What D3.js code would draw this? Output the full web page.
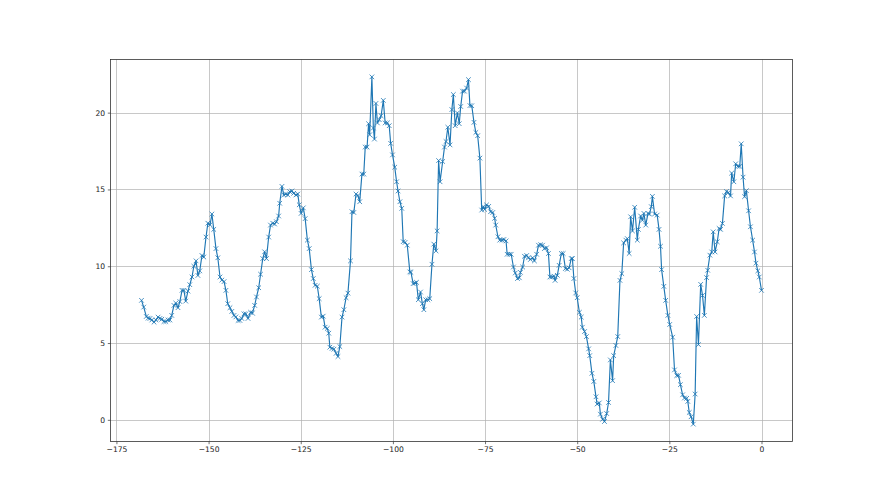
<!DOCTYPE html>
<html>
<head>
<meta charset="utf-8">
<script src="https://cdn.jsdelivr.net/npm/d3@7"></script>
<style>
  html, body { margin: 0; padding: 0; background: #ffffff; }
  svg { display: block; }
  text { font-family: "DejaVu Sans", sans-serif; }
</style>
</head>
<body>
<svg id="chart" width="880" height="495"></svg>
<script>
// x positions
const xValues = [
  -168.2,-167.6,-166.9,-166.4,-165.9,-165.4,-164.8,-164.3,-163.7,-163.2,-162.7,-162.1,-161.6,-161.0,-160.5,-160.0,
  -159.4,-158.9,-158.3,-157.8,-157.2,-156.7,-156.2,-155.6,-155.1,-154.5,-154.0,-153.4,-152.9,-152.4,-151.8,-151.3,
  -150.7,-150.2,-149.6,-149.1,-148.6,-148.0,-147.5,-146.9,-146.4,-145.8,-145.3,-144.8,-144.2,-143.7,-143.1,-142.6,
  -142.0,-141.5,-141.0,-140.4,-139.9,-139.3,
  -138.6,-138.1,-137.5,-137.0,-136.4,-135.9,-135.3,-134.8,-134.3,-133.7,-133.2,-132.6,-132.1,-131.6,-131.0,-130.7,
  -130.1,-129.6,-129.1,-128.5,-128.0,-127.4,-126.9,-126.3,-125.8,-125.4,-124.9,-124.3,-123.8,-123.2,-122.7,-122.1,
  -121.6,-121.1,-120.5,-120.0,-119.4,-118.9,-118.4,-117.8,-117.4,-117.1,-116.5,-116.0,-115.4,-114.9,-114.4,-113.8,
  -113.3,-112.7,-112.2,-111.5,-111.1,-110.6,-110.0,-109.5,-109.0,
  -108.4,-107.9,-107.5,-107.0,-106.6,-106.3,-105.7,-105.3,-105.0,-104.6,-104.2,-103.7,-103.2,-102.6,-102.1,-101.5,
  -101.0,-100.6,-100.1,-99.5,-99.0,-98.6,-98.1,-97.6,-97.2,-96.7,-96.1,-95.4,-95.1,-94.5,-94.0,-93.6,-93.1,-92.5,
  -92.0,-91.6,-91.1,-90.5,-90.0,-89.4,-88.9,-88.3,-88.0,-87.6,-87.2,
  -86.5,-86.0,-85.6,-85.1,-84.5,-84.0,-83.6,-83.1,-82.5,-82.0,-81.6,-81.1,-80.6,-80.0,-79.5,-79.1,-78.6,-78.0,
  -77.5,-77.0,-76.4,-75.9,-75.5,-75.1,-74.6,-74.0,-73.5,-72.9,-72.4,-72.1,-71.5,-71.0,-70.4,-69.9,-69.3,-69.0,
  -68.4,-67.9,-67.3,-66.8,-66.2,-65.7,-65.4,
  -64.8,-64.3,-63.7,-63.2,-62.7,-62.1,-61.6,-61.0,-60.5,-59.9,-59.4,-58.9,-58.3,-57.8,-57.4,-56.9,-56.3,-56.0,
  -55.4,-54.9,-54.3,-53.8,-53.2,-52.7,-52.2,-51.6,-51.3,-50.9,-50.4,-50.0,
  -49.4,-48.9,-48.6,-48.0,-47.5,-46.9,-46.6,-46.0,-45.5,-44.9,-44.6,-44.0,-43.7,-43.1,-42.6,-42.0,-41.5,-41.0,
  -40.4,-40.1,-39.5,-39.0,-38.4,-37.9,-37.4,-36.8,-36.4,-35.9,-35.5,-35.0,-34.4,-33.7,-33.4,-32.8,-32.3,-31.9,
  -31.4,-30.8,-30.4,-29.9,-29.6,-29.0,-28.3,-27.8,-27.4,
  -27.1,-26.5,-26.0,-25.4,-24.9,-24.1,-23.6,-23.0,-22.5,-22.0,-21.4,-20.9,-20.3,-20.0,-19.6,-19.1,-18.5,-18.0,
  -17.6,-17.1,-16.5,-16.0,-15.5,-14.9,-14.6,-14.0,-13.5,-13.1,-12.6,-12.0,-11.5,-11.1,-10.6,-10.0,-9.5,-9.0,
  -8.4,-8.1,-7.5,-7.0,-6.4,-5.9,-5.5,-5.0,-4.6,-4.1,-3.5,-3.0,-2.4,-1.9,-1.5,-1.0,-0.6,0.0
];
// y values
const yValues = [
  7.78,7.34,6.73,6.62,6.6,6.5,6.36,6.5,6.69,6.6,6.55,6.4,6.4,6.5,6.5,6.8,
  7.45,7.6,7.3,7.7,8.43,8.43,7.73,8.38,8.8,9.3,10.0,10.35,9.4,9.7,10.7,10.6,
  11.9,12.8,12.7,13.4,12.4,11.15,10.55,9.3,9.1,9.0,8.43,7.56,7.3,7.06,6.8,6.7,
  6.47,6.47,6.6,6.9,6.9,6.6,
  7.0,6.95,7.45,8.0,8.6,9.48,10.5,10.94,10.5,11.9,12.68,12.8,12.75,12.9,13.27,14.1,
  15.2,14.64,14.7,14.64,14.86,14.9,14.75,14.64,14.7,14.0,13.44,13.8,13.1,11.7,11.15,9.78,
  9.2,8.76,8.7,7.89,6.69,6.75,6.03,5.95,5.64,4.73,4.65,4.6,4.33,4.12,4.77,6.69,
  7.17,7.95,8.25,10.35,13.55,13.5,14.7,14.6,14.2,
  16.0,16.0,17.76,17.76,19.28,18.56,22.33,19.0,18.28,20.6,19.33,19.54,19.8,20.8,19.33,19.33,
  19.15,18.0,17.25,16.45,15.5,14.9,14.2,13.77,11.6,11.55,11.37,9.63,9.6,8.87,8.9,8.95,7.82,8.32,
  7.56,7.17,7.82,7.82,7.89,10.13,11.44,11.0,12.3,16.88,15.5,
  16.82,17.76,18.12,19.05,17.9,20.2,21.18,19.15,19.98,19.28,20.4,21.4,21.4,21.6,22.15,20.46,20.45,19.37,
  18.71,18.5,17.04,13.66,13.88,13.7,13.99,13.9,13.55,13.5,13.12,12.68,11.92,11.7,11.7,11.74,11.65,10.78,
  10.78,10.78,9.95,9.56,9.2,9.25,9.6,
  9.95,10.65,10.7,10.55,10.44,10.55,10.35,10.78,11.37,11.4,11.37,11.15,11.2,10.83,9.3,9.3,9.35,9.08,
  9.41,10.06,10.83,10.83,9.85,9.8,9.9,10.5,10.5,9.2,8.26,7.95,
  7.0,6.69,6.03,5.75,5.42,4.62,4.18,3.03,2.5,1.5,1.03,1.1,0.37,0.04,-0.11,0.41,1.13,3.9,
  2.55,4.18,4.84,5.42,9.08,9.52,11.52,11.7,11.8,10.83,13.22,12.3,13.84,11.7,12.4,13.27,13.0,13.44,
  12.68,13.44,13.4,13.88,14.55,13.4,13.33,12.4,11.3,
  9.78,8.69,7.78,6.8,6.21,5.38,3.25,2.88,2.9,2.29,1.63,1.42,1.4,1.2,0.48,0.2,-0.28,1.68,
  6.73,4.9,8.82,8.1,6.8,9.26,9.74,10.72,10.93,12.24,10.93,11.59,12.46,12.4,12.79,14.58,14.86,14.8,
  14.58,16.06,15.5,16.67,16.5,16.5,17.97,15.8,14.53,14.92,13.61,12.57,11.7,10.93,10.2,9.7,9.3,8.43
];
const xTicks = [-175, -150, -125, -100, -75, -50, -25, 0];
const yTicks = [0, 5, 10, 15, 20];

(function () {
  const n = Math.min(xValues.length, yValues.length);
  const data = d3.range(n).map(i => ({ x: xValues[i], y: yValues[i] }));

  const svg = d3.select("#chart");
  const W = 880, H = 495;
  const pl = 110.5, pr = 792.5, pt = 59.5, pb = 441.5;

  const xMin = d3.min(xValues), xMax = d3.max(xValues);
  const yMin = d3.min(yValues), yMax = d3.max(yValues);
  const xPad = (xMax - xMin) * 0.05, yPad = (yMax - yMin) * 0.05;

  const x = d3.scaleLinear().domain([xMin - xPad, xMax + xPad]).range([pl, pr]);
  const y = d3.scaleLinear().domain([yMin - yPad, yMax + yPad]).range([pb, pt]);

  svg.append("rect").attr("width", W).attr("height", H).attr("fill", "#ffffff");

  // grid
  const grid = svg.append("g");
  grid.selectAll(".gx").data(xTicks).enter().append("line")
    .attr("x1", d => Math.round(x(d)) + 0.5).attr("x2", d => Math.round(x(d)) + 0.5)
    .attr("y1", pt).attr("y2", pb)
    .attr("stroke", "#b0b0b0").attr("stroke-width", 0.7);
  grid.selectAll(".gy").data(yTicks).enter().append("line")
    .attr("y1", d => Math.round(y(d)) + 0.5).attr("y2", d => Math.round(y(d)) + 0.5)
    .attr("x1", pl).attr("x2", pr)
    .attr("stroke", "#b0b0b0").attr("stroke-width", 0.7);

  // line
  svg.append("clipPath").attr("id", "clip").append("rect")
    .attr("x", pl).attr("y", pt).attr("width", pr - pl).attr("height", pb - pt);
  const plot = svg.append("g").attr("clip-path", "url(#clip)");
  plot.append("path").datum(data)
    .attr("fill", "none").attr("stroke", "#1f77b4").attr("stroke-width", 1.15)
    .attr("stroke-linejoin", "round")
    .attr("d", d3.line().x(d => x(d.x)).y(d => y(d.y)));

  // markers 'x'
  const ms = 2.3;
  plot.selectAll(".mk").data(data).enter().append("path")
    .attr("transform", d => `translate(${x(d.x)},${y(d.y)})`)
    .attr("d", `M${-ms},${-ms}L${ms},${ms}M${-ms},${ms}L${ms},${-ms}`)
    .attr("stroke", "#1f77b4").attr("stroke-width", 0.8).attr("fill", "none");

  // axes
  const fmt = d => (d < 0 ? "\u2212" + Math.abs(d) : String(d));
  const xAxis = d3.axisBottom(x).tickValues(xTicks).tickSize(2.7).tickPadding(2.7).tickFormat(fmt);
  const yAxis = d3.axisLeft(y).tickValues(yTicks).tickSize(2.7).tickPadding(2.7).tickFormat(fmt);

  const gx = svg.append("g").attr("transform", `translate(0,${pb})`).call(xAxis);
  const gy = svg.append("g").attr("transform", `translate(${pl},0)`).call(yAxis);
  [gx, gy].forEach(g => {
    g.select(".domain").remove();
    g.selectAll(".tick line").attr("stroke", "#333333").attr("stroke-width", 0.7);
    g.selectAll(".tick text").attr("fill", "#222222")
      .style("font-family", "DejaVu Sans, sans-serif").style("font-size", "7.6px");
  });

  // frame
  svg.append("rect").attr("x", pl).attr("y", pt)
    .attr("width", pr - pl).attr("height", pb - pt)
    .attr("fill", "none").attr("stroke", "#333333").attr("stroke-width", 0.8);
})();
</script>
</body>
</html>
